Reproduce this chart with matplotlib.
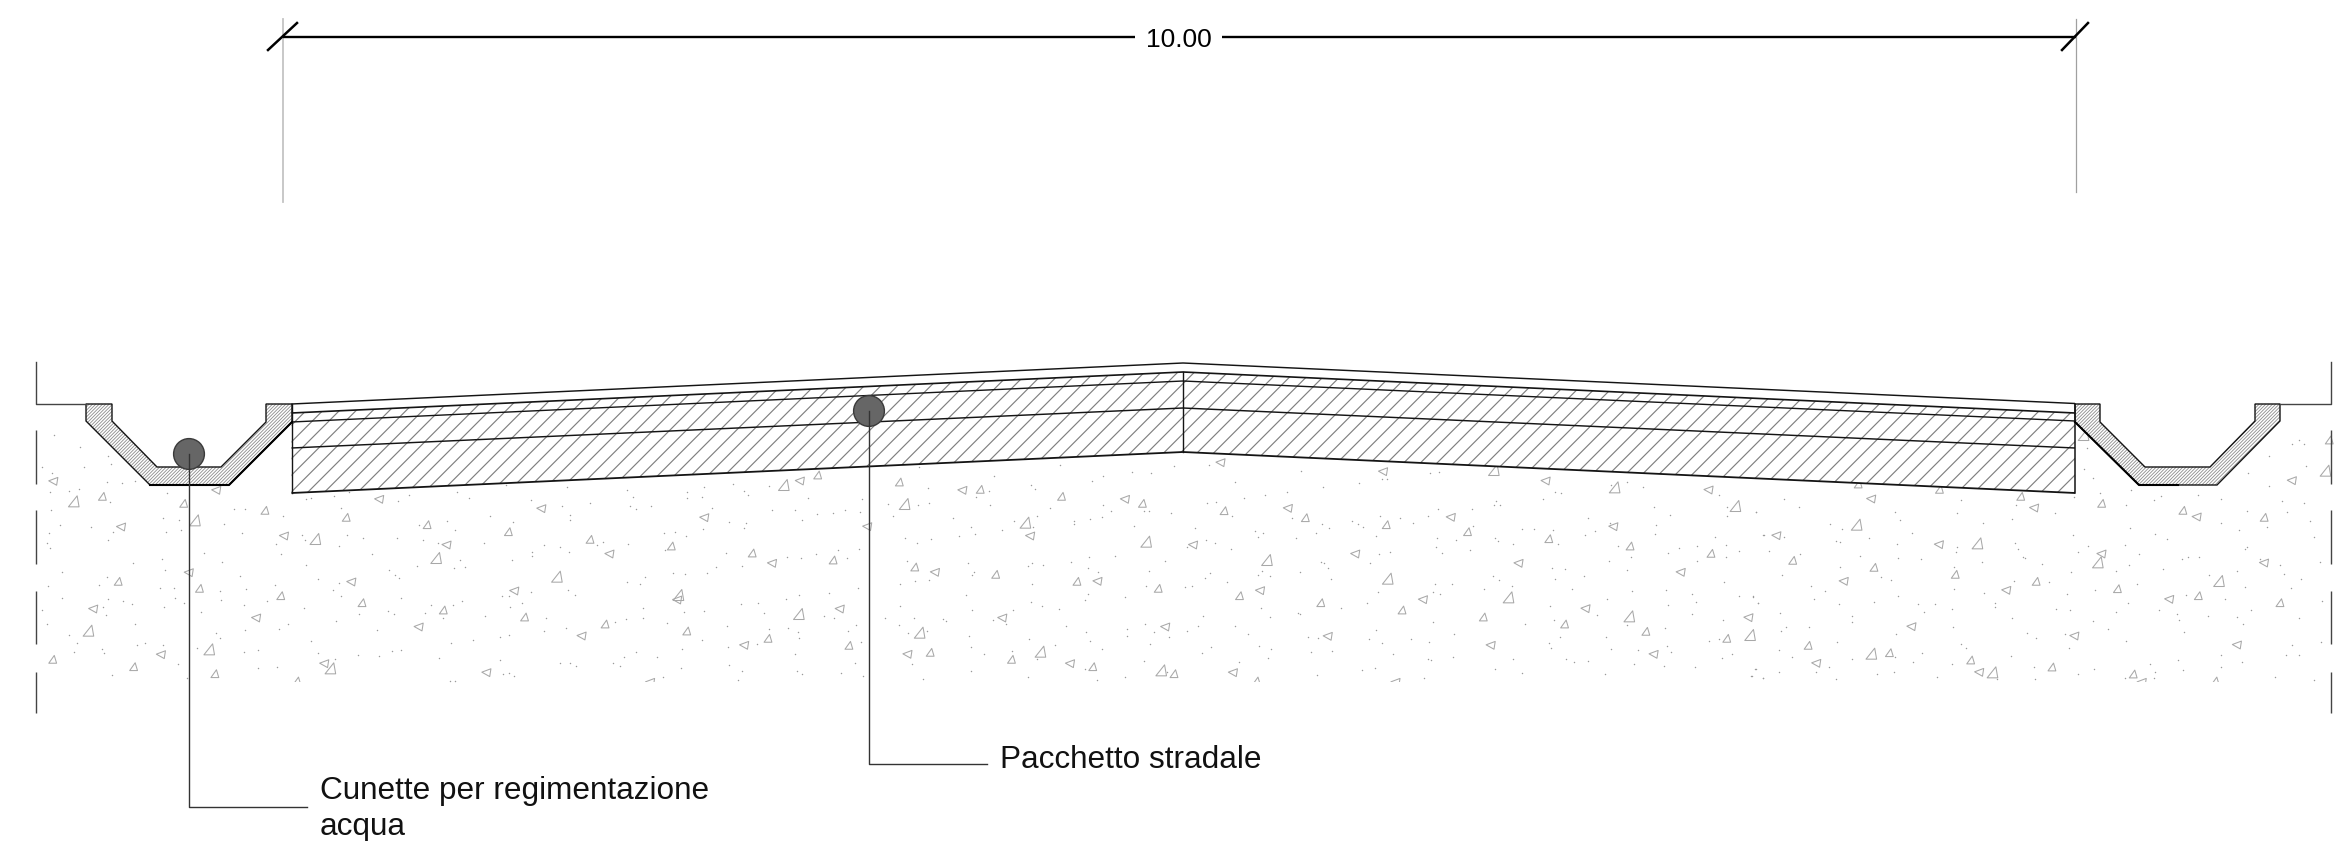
import matplotlib
matplotlib.use("Agg")
import matplotlib.pyplot as plt
from matplotlib.collections import PolyCollection
from matplotlib.patches import Polygon, Circle, Rectangle

# all coordinates are image pixels, y going down
W, H = 2336, 841

# ---- road section
road_x = [291.5, 1183, 2075]
road_top = [404, 363, 403.5]
layer_1 = [413, 372, 413]
layer_2 = [422, 381, 421]
layer_3 = [448, 408, 448]
road_bottom = [493, 452, 493]

# ---- ditches, outline going round
ditch_left_x = [86, 86, 150, 229, 292, 292, 266, 266, 221, 157, 112, 112]
ditch_left_y = [404, 421, 485, 485, 422, 404, 404, 422, 467, 467, 421, 404]
ditch_right_x = [2075, 2075, 2139, 2217, 2280, 2280, 2255, 2255, 2210, 2145, 2100, 2100]
ditch_right_y = [404, 422, 485, 485, 421, 404, 404, 421, 467, 467, 422, 404]

# ---- ground line on both sides
ground_left_x = [35.5, 35.5, 86]
ground_right_x = [2280, 2331, 2331]
ground_left_y = [362, 404, 404]
ground_right_y = [404, 404, 362]
side_dash_top = [430, 510, 591, 672]
side_dash_bottom = [484, 564, 644, 713]

# ---- dimension
dim_y = 37
dim_x = [283, 1135, 1222, 2076]
dim_label = "10.00"

# ---- callouts
callout_labels = ["Cunette per regimentazione\nacqua", "Pacchetto stradale"]
callout_x = [189, 869]
callout_y = [454, 411]
callout_elbow_y = [807, 764]
callout_end_x = [307, 987]

# ---- soil filling, read per crop of the picture (crop x, crop y)
rot_a = [(142,154),(575,181),(322,291),(755,318),(1008,208),(1187,345),(1439,236),(934,456),(1367,483),(248,537),(681,564),(1113,591),(1546,618),(428,674),(862,701),(1293,728),(502,428)]
up_a = [(272,199),(488,220),(704,241),(920,262),(1135,284),(1351,305),(314,454),(530,475),(746,497),(962,518),(1178,540),(1394,561),(140,688),(355,710),(571,731),(789,753),(1568,328)]
big_a = [(196,214),(518,271),(838,327),(1159,384),(1480,440),(235,602),(556,658),(878,715)]

rot_b = [(304,263),(52,372),(484,400),(558,153),(737,290),(990,181),(1170,318),(1422,208),(917,427),(1349,454),(232,510),(664,537),(1096,564),(1529,591),(410,646),(844,673),(1276,701),(160,757)]
up_b = [(605,135),(822,156),(1037,178),(1253,199),(1468,220),(216,348),(431,369),(646,390),(863,411),(1078,433),(1294,454),(1510,475),(40,582),(257,603),(473,625),(688,646),(904,667),(1120,688),(1336,710),(1552,731)]
big_b = [(515,165),(836,222),(1157,278),(1478,335),(235,495),(555,552),(876,608),(1197,665),(1518,721)]

rot_c = [(108,98),(540,125),(287,235),(720,262),(972,153),(1152,290),(1405,180),(35,345),(466,372),(900,400),(1331,427),(213,482),(646,509),(1078,536),(1511,563),(393,619),(826,646),(1259,673),(141,728),(573,757)]
up_c = [(117,242),(333,263),(548,284),(764,305),(980,326),(1196,348),(1411,370),(158,497),(374,518),(590,540),(806,561),(1022,582),(1238,604),(1453,625),(203,753)]
big_c = [(231,390),(552,446),(873,502),(1194,559),(1515,615),(834,120),(1155,172),(1476,228)]

rot_d = [(333,207),(766,234),(81,317),(513,344),(945,372),(1377,399),(260,454),(692,481),(1125,508),(440,590),(873,618),(1305,645),(187,700),(620,727),(1451,152),(1198,261),(1052,757)]
up_d = [(514,178),(730,199),(945,220),(1161,241),(1377,262),(124,391),(340,412),(556,433),(771,454),(987,476),(1202,497),(1419,518),(165,646),(381,668),(597,690),(813,711),(1029,732),(1247,753),(298,162),(1550,30)]
big_d = [(294,284),(615,340),(935,397),(1257,453),(333,671),(655,727),(1540,122),(897,15)]

dots_a = [(143,15),(213,52),(287,77),(112,110),(222,112),(295,103),(138,128),(134,186),(210,176),(184,184),(285,157),(323,158),(360,152),(445,190),(136,241),(293,217),(434,265),(476,270),(160,285),(243,292),(300,305),(442,306),(482,300),(129,310),(125,338),(133,354),(287,329),(622,237),(650,237),(752,258),(594,283),(643,308),(733,341),(746,372),(803,314),(810,331),(902,348),(923,314),(965,323),(989,371),(814,405),(543,369),(591,396),(430,386),(353,399),(438,420),(165,426),(128,467),(284,441),(264,466),(424,473),(463,473),(638,439),(655,476),(585,482),(731,464),(288,506),(326,512),(351,521),(166,505),(436,531),(465,504),(488,519),(588,510),(648,526),(710,514),(809,534),(845,447),(900,460),(885,480),(907,497),(1067,504),(1034,419),(1050,436),(1061,445),(1109,408),(1206,413),(1222,391),(1236,412),(1210,299),(1189,274),(1114,285),(1125,331),(1054,325),(1165,338),(111,541),(125,581),(282,556),(273,532),(359,581),(535,547),(651,599),(741,598),(766,581),(894,573),(1001,599),(1047,552),(1032,544),(955,553),(1130,549),(1145,525),(1203,525),(1228,512),(183,616),(204,638),(196,666),(272,656),(277,670),(363,645),(386,638),(432,645),(474,702),(524,655),(575,609),(584,624),(649,665),(686,661),(686,715),(737,711),(826,632),(845,669),(890,686),(951,676),(1007,678),(1042,664),(1065,659),(1166,685),(1199,639),(1256,631),(1176,565),(1290,557),(1330,620),(1354,616),(1328,691),(1338,733),(1352,730),(1367,737),(1195,753),(1208,752),(298,735),(497,744),(1445,603),(1452,565),(1388,519),(1356,531),(1333,497),(1352,497),(1411,485),(1510,480),(1527,496),(1505,593),(1489,700),(1515,700),(1530,708),(1413,365),(1413,378),(1445,346),(1489,351),(1512,367),(1302,258),(1364,275),(1361,389),(1286,338),(1516,255),(1516,270),(1493,228),(1410,211),(1247,203),(1088,196),(1058,212),(927,187),(887,197),(813,207),(827,204),(906,233),(1215,185),(1345,165),(1508,172)]
dots_b = [(99,181),(113,201),(259,186),(259,205),(304,172),(297,201),(379,161),(410,183),(420,196),(476,167),(580,204),(722,207),(105,229),(123,236),(163,227),(1,218),(484,241),(545,240),(604,251),(645,250),(679,239),(718,245),(370,275),(414,278),(408,295),(564,270),(323,235),(300,296),(196,310),(225,306),(255,318),(35,336),(18,345),(101,342),(200,361),(361,369),(523,380),(560,384),(601,372),(660,360),(682,383),(715,358),(336,412),(405,409),(310,428),(220,429),(252,432),(146,440),(98,455),(134,463),(712,473),(635,490),(556,496),(521,507),(401,521),(447,518),(462,550),(622,558),(648,564),(302,543),(250,546),(141,534),(141,564),(95,568),(67,575),(205,579),(365,588),(475,597),(527,595),(553,606),(555,625),(686,603),(708,586),(443,641),(367,652),(298,631),(245,657),(122,665),(90,681),(62,698),(80,708),(177,681),(242,715),(369,705),(403,722),(545,672),(550,723),(563,731),(668,730),(705,699),(725,739),(720,637),(195,740),(393,749),(785,565),(822,585),(860,565),(937,568),(945,574),(846,610),(895,604),(1008,619),(1013,652),(1047,673),(1012,722),(885,746),(855,702),(825,462),(825,528),(1000,495),(1016,539),(1125,540),(1175,461),(1172,516),(1201,528),(1247,536),(1315,510),(1323,492),(1423,500),(1478,467),(1485,423),(1527,393),(1394,377),(1327,380),(1279,395),(1324,414),(1351,427),(1205,405),(1164,407),(1175,400),(1005,399),(1020,425),(1016,435),(843,392),(865,452),(900,450),(836,325),(868,338),(905,326),(980,317),(1024,313),(1012,292),(1094,299),(966,264),(1128,272),(1178,290),(1188,258),(1285,272),(1287,282),(1330,267),(1360,261),(1385,242),(1447,287),(1486,242),(1473,243),(1545,250),(1363,224),(1223,235),(1063,226),(902,218),(871,225),(793,222),(806,258),(1173,165),(1183,178),(1073,139),(1248,105),(1333,153),(1363,137),(1440,126),(1490,128),(1553,107),(897,173),(1060,183),(1027,200),(875,112),(1265,589),(1319,605),(1329,632),(1361,656),(1426,597),(1426,618),(1476,581),(1500,606),(1538,622),(1489,642),(1472,694),(1422,740),(1347,751),(1316,718),(1164,742),(1188,688),(1236,645),(1168,628),(1122,662),(1105,581),(1071,570),(1534,725)]
dots_c = [(77,104),(147,156),(322,123),(475,158),(381,170),(285,187),(225,196),(171,203),(72,218),(96,215),(138,258),(297,265),(378,283),(396,294),(458,272),(472,282),(487,291),(532,258),(586,264),(620,280),(660,257),(685,238),(775,237),(538,146),(551,148),(664,130),(688,125),(840,213),(851,225),(835,224),(965,208),(996,187),(1012,188),(1187,155),(1146,165),(1230,170),(1259,230),(1301,255),(1433,196),(1455,230),(1455,258),(1530,245),(1084,263),(1142,278),(1103,303),(1076,314),(1265,285),(1262,311),(1423,320),(1551,314),(41,295),(200,302),(207,320),(221,310),(309,324),(362,310),(522,318),(682,325),(733,331),(780,288),(838,325),(846,333),(886,342),(908,297),(941,296),(992,301),(1005,341),(1165,348),(1296,368),(1326,355),(1374,348),(1450,344),(1451,380),(1486,364),(1375,392),(1199,382),(1140,393),(18,350),(70,330),(93,338),(135,358),(681,351),(696,370),(772,359),(528,372),(558,366),(506,398),(374,395),(382,398),(393,415),(318,426),(219,422),(206,434),(240,438),(400,447),(79,430),(66,444),(126,455),(12,470),(31,467),(678,463),(722,461),(832,438),(848,451),(883,468),(807,477),(988,414),(1024,417),(996,447),(1073,437),(1187,420),(1042,477),(1202,483),(1292,480),(1446,456),(1362,491),(1486,497),(1524,500),(1372,515),(1297,525),(1136,507),(1362,552),(1537,520),(1444,570),(525,487),(496,519),(427,533),(673,485),(692,493),(214,535),(62,557),(238,561),(313,549),(320,552),(984,528),(993,570),(1107,554),(673,577),(918,581),(47,589),(18,604),(146,587),(180,612),(83,650),(58,670),(211,649),(243,657),(234,684),(158,695),(341,620),(367,625),(347,666),(405,664),(522,600),(502,628),(538,639),(565,672),(613,628),(662,635),(727,611),(660,687),(668,690),(725,680),(886,687),(838,716),(908,728),(1011,620),(980,640),(985,653),(1027,687),(1047,695),(1084,694),(1133,620),(1145,657),(1218,660),(1207,703),(1129,732),(1289,594),(1293,648),(1304,665),(1286,707),(1368,711),(1407,632),(1433,628),(1440,684),(1466,672),(1530,717),(1517,738),(1550,745),(485,720),(518,713),(363,735),(648,744),(1187,585)]
dots_d = [(102,208),(140,230),(26,245),(397,246),(410,271),(561,250),(572,211),(706,267),(630,279),(717,225),(820,250),(873,200),(923,145),(899,117),(905,55),(941,190),(1010,224),(1024,180),(1085,210),(1102,198),(1200,195),(1263,207),(1332,242),(1425,213),(1484,220),(1438,245),(1500,272),(1450,42),(1470,30),(1483,42),(1389,78),(1487,107),(1335,128),(1390,167),(1385,290),(1262,280),(1310,299),(1120,327),(1086,313),(1020,293),(868,314),(222,282),(255,296),(46,314),(100,322),(240,334),(250,335),(326,324),(440,308),(401,342),(560,350),(558,365),(714,338),(722,357),(736,381),(742,385),(786,402),(882,366),(910,347),(1006,345),(1044,373),(1158,387),(1174,380),(1205,380),(1332,352),(1327,356),(1510,320),(1365,388),(1419,406),(1526,396),(1429,433),(1476,448),(1449,473),(1325,470),(1306,423),(1231,435),(1018,405),(983,422),(1107,417),(60,363),(143,372),(304,379),(405,384),(464,386),(626,397),(552,412),(360,440),(385,450),(95,435),(250,410),(865,427),(172,469),(209,483),(554,477),(632,490),(711,452),(806,456),(852,491),(927,479),(1040,462),(1170,494),(1274,507),(19,499),(33,518),(180,507),(248,522),(341,515),(403,498),(457,523),(502,522),(662,520),(663,530),(548,537),(472,546),(90,548),(282,558),(281,576),(707,564),(824,537),(862,540),(1014,519),(1097,540),(984,547),(1145,551),(1152,569),(1228,557),(1304,560),(1341,540),(1470,563),(1530,513),(1320,583),(92,603),(105,592),(168,592),(398,611),(550,590),(746,608),(772,624),(848,612),(858,654),(922,574),(962,596),(1010,632),(1165,605),(1527,635),(1452,645),(1436,675),(1469,675),(87,660),(122,680),(243,635),(283,687),(468,670),(443,695),(572,642),(585,655),(395,680),(703,677),(765,711),(883,731),(926,718),(1073,702),(1086,725),(1085,745),(1148,691),(1162,719),(1262,675),(1262,710),(1317,695),(1407,742),(1510,750),(25,717),(15,738),(45,744),(89,727),(185,727),(220,711),(240,748),(347,733),(394,725),(507,741),(547,703),(668,748),(769,746),(1006,745)]

crop_x0 = [0, 590, 1180, 1746]
crop_y0 = 430
crop_sx = 1568 / 590
crop_sy = 3.0
soil_bottom = 682

INK = "#141414"
GREY = "#a8a8a8"


def to_px(points, x0):
    return [(x0 + x / crop_sx, crop_y0 + y / crop_sy) for x, y in points]


def triangles(groups, shape):
    verts = []
    for points, x0 in zip(groups, crop_x0):
        for px, py in to_px(points, x0):
            verts.append([(px + dx, py + dy) for dx, dy in shape])
    return verts


fig = plt.figure(figsize=(W / 100, H / 100), dpi=100)
ax = fig.add_axes([0, 0, 1, 1])
ax.set_xlim(0, W)
ax.set_ylim(H, 0)
ax.axis("off")

# soil
small_up = [(-3.9, 3.9), (3.9, 3.9), (1.6, -3.9)]
big_up = [(-5.3, 5.5), (5.3, 5.5), (3.4, -5.5)]
small_rot = [(-4.7, -0.5), (4.4, -3.9), (3.2, 3.9)]
soil_clip = Rectangle((0, 0), W, soil_bottom, transform=ax.transData)
for groups, shape in [((up_a, up_b, up_c, up_d), small_up),
                      ((big_a, big_b, big_c, big_d), big_up),
                      ((rot_a, rot_b, rot_c, rot_d), small_rot)]:
    tris = PolyCollection(triangles(groups, shape), facecolors="none",
                          edgecolors=GREY, linewidths=0.75, zorder=2)
    ax.add_collection(tris)
    tris.set_clip_path(soil_clip)
for dots, x0 in zip((dots_a, dots_b, dots_c, dots_d), crop_x0):
    pts = to_px(dots, x0)
    ax.scatter([p[0] for p in pts], [p[1] for p in pts], s=1.1, color="#9a9a9a",
               linewidths=0, zorder=2)

# road, white first so the soil does not show through
road_outline = list(zip(road_x, road_top)) + list(zip(road_x, road_bottom))[::-1]
ax.add_patch(Polygon(road_outline, closed=True, facecolor="white", edgecolor="none", zorder=3))
plt.rcParams["hatch.linewidth"] = 0.85
road_hatch = list(zip(road_x, layer_1)) + list(zip(road_x, road_bottom))[::-1]
ax.add_patch(Polygon(road_hatch, closed=True, facecolor="none", edgecolor="#808080",
                     linewidth=0, hatch="//", zorder=4))
for ys, lw in [(road_top, 1.05), (layer_1, 1.2), (layer_2, 1.0), (layer_3, 1.05), (road_bottom, 1.3)]:
    ax.plot(road_x, ys, color=INK, lw=lw, zorder=5, solid_capstyle="butt")
ax.plot([road_x[0]] * 2, [road_top[0], road_bottom[0]], color=INK, lw=1.0, zorder=5)
ax.plot([road_x[1]] * 2, [layer_1[1], road_bottom[1]], color=INK, lw=1.0, zorder=5)
ax.plot([road_x[2]] * 2, [road_top[2], road_bottom[2]], color=INK, lw=1.1, zorder=5)

# ditches
plt.rcParams["hatch.linewidth"] = 0.6
for dx, dy in [(ditch_left_x, ditch_left_y), (ditch_right_x, ditch_right_y)]:
    pts = list(zip(dx, dy))
    ax.add_patch(Polygon(pts, closed=True, facecolor="white", edgecolor="none", zorder=3))
    ax.add_patch(Polygon(pts, closed=True, facecolor="none", edgecolor="#8c8c8c",
                         linewidth=0, hatch="//////////", zorder=4))
    ax.add_patch(Polygon(pts, closed=True, facecolor="none", edgecolor=INK, linewidth=1.0,
                         joinstyle="miter", zorder=5))
# heavier strokes on the road side of the ditches
ax.plot(ditch_left_x[2:5], ditch_left_y[2:5], color="black", lw=1.5, zorder=6)
ax.plot(ditch_right_x[1:3] + [2178], ditch_right_y[1:3] + [485], color="black", lw=1.5, zorder=6)

# ground line and side break marks
ax.plot(ground_left_x, ground_left_y, color="#444444", lw=1.0, zorder=5)
ax.plot(ground_right_x, ground_right_y, color="#444444", lw=1.0, zorder=5)
for x in (ground_left_x[0], ground_right_x[-1]):
    ax.vlines([x] * 4, side_dash_top, side_dash_bottom, color="#444444", lw=1.0, zorder=5)

# dimension line
ax.plot([dim_x[0], dim_x[0]], [19, 202], color="#c4c4c4", lw=1.3, zorder=1)
ax.plot([dim_x[3] - 0.5, dim_x[3] - 0.5], [19, 192], color="#a0a0a0", lw=0.9, zorder=1)
ax.plot(dim_x[:2], [dim_y, dim_y], color="black", lw=1.7, solid_capstyle="butt")
ax.plot(dim_x[2:], [dim_y, dim_y], color="black", lw=1.7, solid_capstyle="butt")
ax.plot([268, 297], [50, 23], color="black", lw=1.8)
ax.plot([2062, 2088], [50, 23], color="black", lw=1.8)
ax.text(1178.5, 46.5, dim_label, ha="center", va="baseline", fontsize=19, color="black",
        family="Liberation Sans")

# callouts, baseline is the one of the last line
label_pos = [(319.5, 835), (1000, 768)]
for i, label in enumerate(callout_labels):
    ax.add_patch(Circle((callout_x[i], callout_y[i]), 15.4, facecolor="#666666",
                        edgecolor="#3a3a3a", linewidth=1.0, zorder=7))
    ax.plot([callout_x[i], callout_x[i], callout_end_x[i]],
            [callout_y[i], callout_elbow_y[i], callout_elbow_y[i]],
            color="#333333", lw=1.0, zorder=8)
    ax.text(label_pos[i][0], label_pos[i][1], label, ha="left", va="baseline", fontsize=22.7,
            color="#111111", linespacing=1.27, family="Liberation Sans")

fig.savefig("out.png", dpi=100)
